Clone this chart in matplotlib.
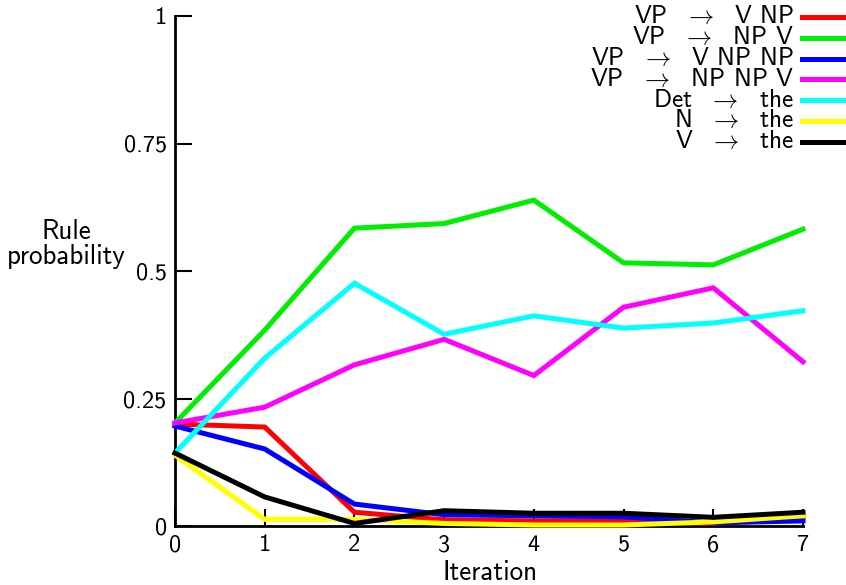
import matplotlib
matplotlib.use("Agg")
import matplotlib.pyplot as plt
from matplotlib.lines import Line2D

plt.rcParams['font.family'] = ['cmss10', 'DejaVu Sans']
plt.rcParams['mathtext.fontset'] = 'cm'
plt.rcParams['axes.unicode_minus'] = False

iterations = [0, 1, 2, 3, 4, 5, 6, 7]
labels = [r"VP  $\rightarrow$  V NP", r"VP  $\rightarrow$  NP V",
          r"VP  $\rightarrow$  V NP NP", r"VP  $\rightarrow$  NP NP V",
          r"Det  $\rightarrow$  the", r"N  $\rightarrow$  the", r"V  $\rightarrow$  the"]
colors = ['#ff0000', '#00ee00', '#0000ff', '#ff00ff', '#00ffff', '#ffff00', '#000000']

vp_v_np = [0.200, 0.194, 0.027, 0.012, 0.010, 0.010, 0.005, 0.018]
vp_np_v = [0.202, 0.384, 0.584, 0.593, 0.639, 0.516, 0.512, 0.582]
vp_v_np_np = [0.196, 0.151, 0.043, 0.022, 0.020, 0.018, 0.006, 0.010]
vp_np_np_v = [0.202, 0.233, 0.316, 0.366, 0.295, 0.429, 0.467, 0.322]
det_the = [0.143, 0.329, 0.476, 0.376, 0.412, 0.388, 0.398, 0.422]
n_the = [0.139, 0.013, 0.013, 0.005, 0.002, 0.002, 0.008, 0.020]
v_the = [0.143, 0.057, 0.005, 0.030, 0.025, 0.025, 0.017, 0.027]
series = [vp_v_np, vp_np_v, vp_v_np_np, vp_np_np_v, det_the, n_the, v_the]

yticks = [0, 0.25, 0.5, 0.75, 1]
ytick_labels = ["0", "0.25", "0.5", "0.75", "1"]

W, H = 846, 585
fig = plt.figure(figsize=(W / 100, H / 100), dpi=100)
ax = fig.add_axes([175 / W, 1 - 526 / H, (803 - 175) / W, (526 - 16) / H])

for vals, c, lab in zip(series, colors, labels):
    ax.plot(iterations, vals, color=c, lw=3.6, clip_on=False, solid_joinstyle='miter')

ax.set_xlim(0, 7)
ax.set_ylim(0, 1)
for s in ['top', 'right']:
    ax.spines[s].set_visible(False)
for s in ['left', 'bottom']:
    ax.spines[s].set_linewidth(2.0)
    ax.spines[s].set_zorder(0.5)
ax.set_xticks(iterations)
ax.set_xticklabels([str(i) for i in iterations])
ax.set_yticks(yticks)
ax.set_yticklabels(ytick_labels)
ax.tick_params(direction='in', length=12, width=1.5, labelsize=17.5, pad=6)

fig.text(490 / W, 1 - 573 / H, "Iteration", ha='center', va='center', fontsize=19.5)
fig.text(66 / W, 1 - 244 / H, "Rule\nprobability", ha='center', va='center',
         fontsize=19.5, multialignment='center', linespacing=1.0)

# key
row0 = 17
dy = 20.8
for i, (c, lab) in enumerate(zip(colors, labels)):
    yy = 1 - (row0 + i * dy) / H
    fig.text(794 / W, yy, lab, ha='right', va='center', fontsize=18.2)
    fig.add_artist(Line2D([802 / W, 846 / W], [yy, yy], color=c, lw=3.6,
                          transform=fig.transFigure))

fig.savefig("out.png", dpi=100)
